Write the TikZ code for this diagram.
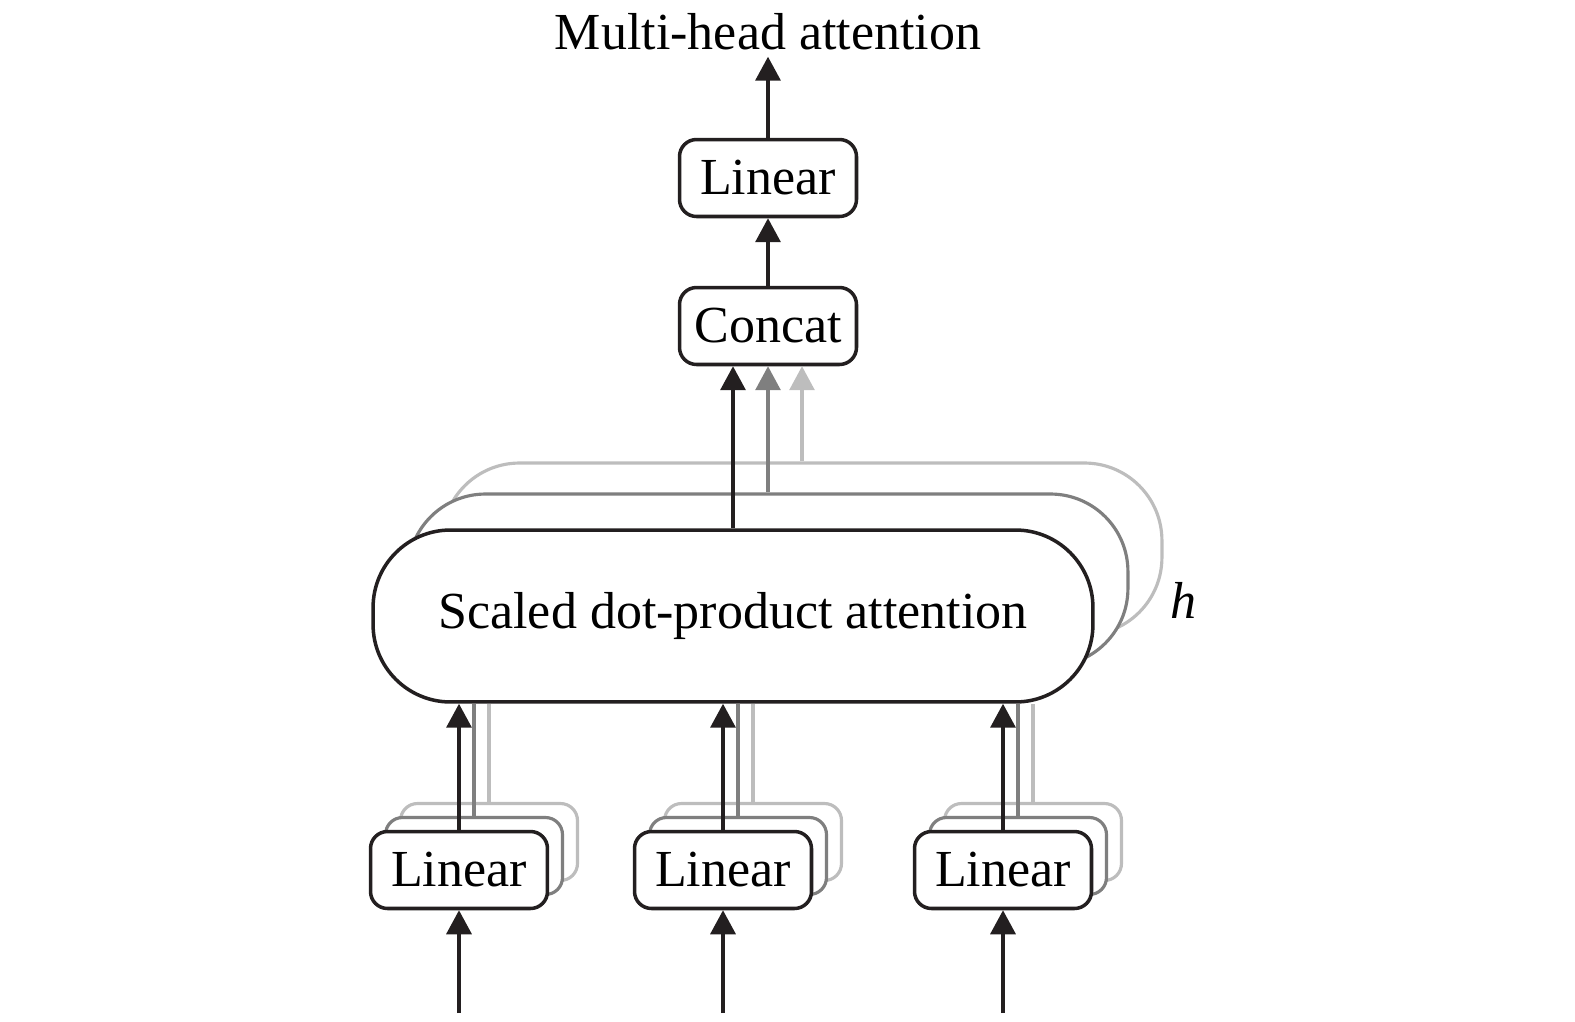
\documentclass[tikz,border=0pt]{standalone}
\usepackage{fontspec}
\setmainfont{Liberation Serif}
\usetikzlibrary{arrows.meta, positioning}
\definecolor{ink}{HTML}{231F20}
\definecolor{midgray}{HTML}{7F7F7F}
\definecolor{palegray}{HTML}{BDBDBD}

\begin{document}
\begin{tikzpicture}[x=0.02cm, y=-0.02cm, >={Triangle[length=0.48cm,width=0.5cm]},
  font=\fontsize{29.6}{35}\selectfont,
  box/.style={draw=ink, line width=2pt, fill=white, rounded corners=0.34cm,
    minimum width=3.54cm, minimum height=1.54cm, inner sep=0pt},
  attbox/.style={box, rounded corners=1.55cm, minimum width=14.4cm, minimum height=3.44cm},
  link/.style={->, draw=ink, line width=2pt},
  midlink/.style={draw=midgray, line width=1.8pt},
  palelink/.style={draw=palegray, line width=1.8pt}]
  \useasboundingbox (0,0) rectangle (1575,1021);
  % Output side
  \node[anchor=base] (title) at (768,50) {Multi-head attention};
  \node[box] (outlin) at (768,178) {Linear};
  \node[box] (concat) at (768,326) {Concat};
  \draw[link] (outlin.north) -- (title.south);
  \draw[link] (concat.north) -- (outlin.south);
  % h stacked attention heads
  \node[attbox, draw=palegray, line width=1.8pt] (attC) at (802,549) {};
  \node[attbox, draw=midgray, line width=1.8pt] (attB) at (768,580) {};
  \node[attbox] (att) at (733,616) {Scaled dot-product attention};
  \node (hlabel) at (1183,600) {\itshape h};
  \draw[link] (att.north) -- (att.north |- concat.south);
  \draw[midlink, ->] (attB.north) -- (attB.north |- concat.south);
  \draw[palelink, ->] (attC.north) -- (attC.north |- concat.south);
  % Linear projections of the inputs
  \foreach \i/\x in {1/459, 2/723, 3/1003} {
    \node[box, draw=palegray, line width=1.8pt] (linC\i) at (\x+30,842) {};
    \node[box, draw=midgray, line width=1.8pt] (linB\i) at (\x+15,856) {};
    \node[box] (lin\i) at (\x,870) {Linear};
    \coordinate (in\i) at (\x,1013);
    \draw[link] (in\i) -- (lin\i.south);
    \draw[link] (lin\i.north) -- (lin\i.north |- att.south);
    \draw[midlink] (linB\i.north) -- (linB\i.north |- att.south);
    \draw[palelink] (linC\i.north) -- (linC\i.north |- att.south);
  }
\end{tikzpicture}
\end{document}
